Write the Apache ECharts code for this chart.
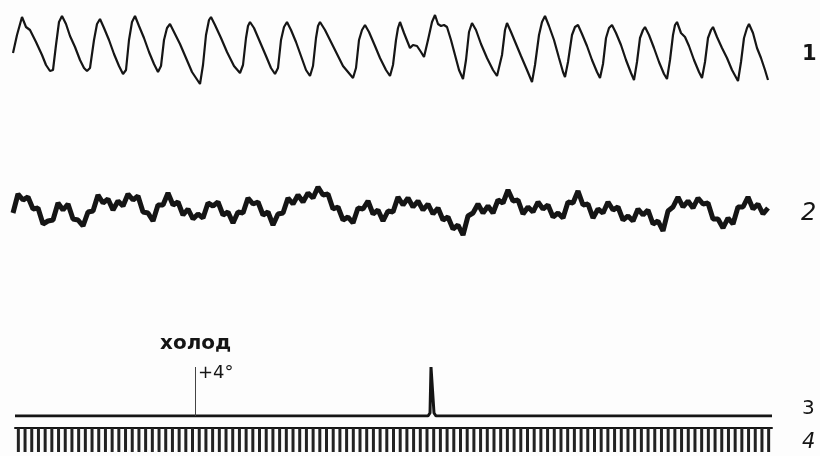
<!DOCTYPE html>
<html>
<head>
<meta charset="utf-8">
<script src="https://cdn.jsdelivr.net/npm/echarts@6/dist/echarts.min.js"></script>
<style>html,body{margin:0;padding:0;background:#fdfdfd;}#c{width:820px;height:456px;}</style>
</head>
<body>
<div id="c"></div>
<script>
// Trace 1: respiration (time, amplitude)
var trace1 = [[13,47],[17,65],[22,83],[26,73],[30,70],[36,58],[42,45],[46,35],[50,29],[53,30],[56,55],[59,78],[62,84],[66,76],[70,64],[75,53],[80,40],[84,32],[87,29],[90,32],[94,60],[97,76],[100,81],[104,72],[109,60],[114,46],[119,34],[123,26],[126,30],[129,60],[132,78],[135,84],[139,74],[144,62],[149,48],[154,36],[158,28],[161,34],[164,60],[167,72],[170,76],[174,68],[180,56],[186,42],[192,28],[200,16],[203,35],[206,65],[209,80],[211,83],[215,75],[221,62],[227,48],[234,34],[240,27],[243,35],[246,62],[248,74],[250,78],[254,72],[260,58],[266,44],[271,32],[275,26],[278,32],[281,60],[284,73],[287,78],[291,70],[296,58],[301,44],[306,30],[310,24],[313,34],[316,62],[318,74],[320,78],[325,70],[331,58],[337,46],[343,34],[353,22],[356,32],[359,60],[362,70],[365,75],[369,68],[375,54],[380,42],[386,30],[390,24],[393,35],[396,60],[398,72],[400,78],[404,67],[410,52],[413,55],[417,54],[421,48],[424,43],[428,60],[432,78],[435,85],[438,76],[441,74],[444,75],[447,73],[451,60],[455,45],[459,30],[463,21],[466,40],[469,68],[472,77],[476,70],[481,56],[487,42],[493,30],[497,24],[499,22],[502,45],[505,70],[507,77],[511,68],[516,56],[521,44],[527,30],[532,18],[535,35],[539,65],[542,78],[545,84],[549,74],[554,60],[559,42],[563,28],[565,23],[568,38],[572,65],[575,73],[578,75],[582,66],[587,54],[592,40],[597,28],[600,22],[603,36],[606,62],[609,72],[612,75],[616,67],[621,55],[626,40],[631,27],[634,20],[637,38],[640,62],[643,70],[645,73],[649,65],[654,52],[659,38],[664,26],[667,21],[670,40],[673,65],[675,75],[677,78],[681,67],[685,63],[689,54],[694,40],[699,28],[702,22],[705,38],[708,62],[711,70],[713,73],[717,63],[722,52],[727,42],[732,30],[738,19],[741,38],[744,62],[747,72],[749,76],[753,67],[757,52],[761,42],[765,30],[768,20]];

// Trace 2: noisy signal, uniformly sampled
var trace2 = [27,46,40,43,31,32,16,19,20,37,30,36,21,20,14,28,29,45,37,41,30,39,34,46,40,44,28,27,19,35,35,47,35,38,25,31,21,26,22,37,34,38,25,28,17,28,27,42,36,38,25,28,15,26,27,42,36,45,38,47,42,53,45,46,31,33,20,23,17,32,31,39,26,30,19,29,28,43,35,42,33,39,30,36,26,32,20,23,11,15,5,24,27,36,27,34,27,40,37,50,39,40,26,33,28,38,31,35,23,27,22,38,37,49,35,36,22,31,27,38,30,33,20,24,19,31,25,30,16,19,9,29,33,43,33,39,32,42,36,37,21,21,12,22,16,33,33,43,31,36,26,32];

// Trace 3: stimulus mark line (time, amplitude)
var trace3 = [[15,0],[428,0],[430,3],[431,49],[433,49],[434,3],[436,0],[772,0]];
var stimulusTime = 195;
var stimulusHeight = 49;

// Trace 4: time marker pulses
var timeMarks = [1,1,1,1,1,1,1,1,1,1,1,1,1,1,1,1,1,1,1,1,1,1,1,1,1,1,1,1,1,1,1,1,1,1,1,1,1,1,1,1,1,1,1,1,1,1,1,1,1,1,1,1,1,1,1,1,1,1,1,1,1,1,1,1,1,1,1,1,1,1,1,1,1,1,1,1,1,1,1,1,1,1,1,1,1,1,1,1,1,1,1,1,1,1,1,1,1,1,1,1,1,1,1,1,1,1,1,1,1,1,1,1,1];

var traceLabels = ['1','2','3','4'];
var stimulusLabel = 'холод';
var tempLabel = '+4°';

var ink = '#151515';
var chart = echarts.init(document.getElementById('c'), null, {renderer:'canvas'});
var hiddenVal = function(i, min, max){ return {type:'value', gridIndex:i, min:min, max:max, show:false}; };
chart.setOption({
  backgroundColor:'#fdfdfd',
  animation:false,
  grid:[
    {left:0, right:0, top:0, height:100},
    {left:13, width:755, top:170, height:70},
    {left:0, right:0, top:360, height:56},
    {left:15, width:757, top:428, height:24}
  ],
  xAxis:[
    hiddenVal(0,0,820),
    {type:'category', gridIndex:1, boundaryGap:false, show:false},
    hiddenVal(2,0,820),
    {type:'category', gridIndex:3, boundaryGap:true, position:'top', axisLine:{show:true, onZero:false, lineStyle:{color:ink, width:2}}, axisTick:{show:false}, axisLabel:{show:false}}
  ],
  yAxis:[
    hiddenVal(0,0,100),
    hiddenVal(1,0,70),
    hiddenVal(2,0,56),
    hiddenVal(3,0,1)
  ],
  series:[
    {type:'line', xAxisIndex:0, yAxisIndex:0, data:trace1, showSymbol:false, lineStyle:{color:ink, width:2.2}},
    {type:'line', xAxisIndex:1, yAxisIndex:1, data:trace2, showSymbol:false, lineStyle:{color:ink, width:5}},
    {type:'line', xAxisIndex:2, yAxisIndex:2, data:trace3, showSymbol:false, lineStyle:{color:ink, width:3},
      markLine:{silent:true, symbol:'none', label:{show:false}, lineStyle:{color:'#444', width:1, type:'solid'},
        data:[[{coord:[stimulusTime,0]},{coord:[stimulusTime,stimulusHeight]}]]}},
    {type:'bar', xAxisIndex:3, yAxisIndex:3, data:timeMarks, barWidth:3, itemStyle:{color:'#222'}}
  ],
  graphic:[
    {type:'text', left:802, top:44, style:{text:traceLabels[0], font:'bold 21px "DejaVu Sans"', fill:ink}},
    {type:'text', left:801, top:202, style:{text:traceLabels[1], font:'italic 24px "DejaVu Sans"', fill:ink}},
    {type:'text', left:802, top:399, style:{text:traceLabels[2], font:'20px "DejaVu Sans"', fill:ink}},
    {type:'text', left:802, top:432, style:{text:traceLabels[3], font:'italic 21px "DejaVu Sans"', fill:ink}},
    {type:'text', left:160, top:334, style:{text:stimulusLabel, font:'bold 20px "DejaVu Sans"', fill:ink}},
    {type:'text', left:198, top:364, style:{text:tempLabel, font:'18px "DejaVu Sans"', fill:ink}}
  ]
});
</script>
</body>
</html>
